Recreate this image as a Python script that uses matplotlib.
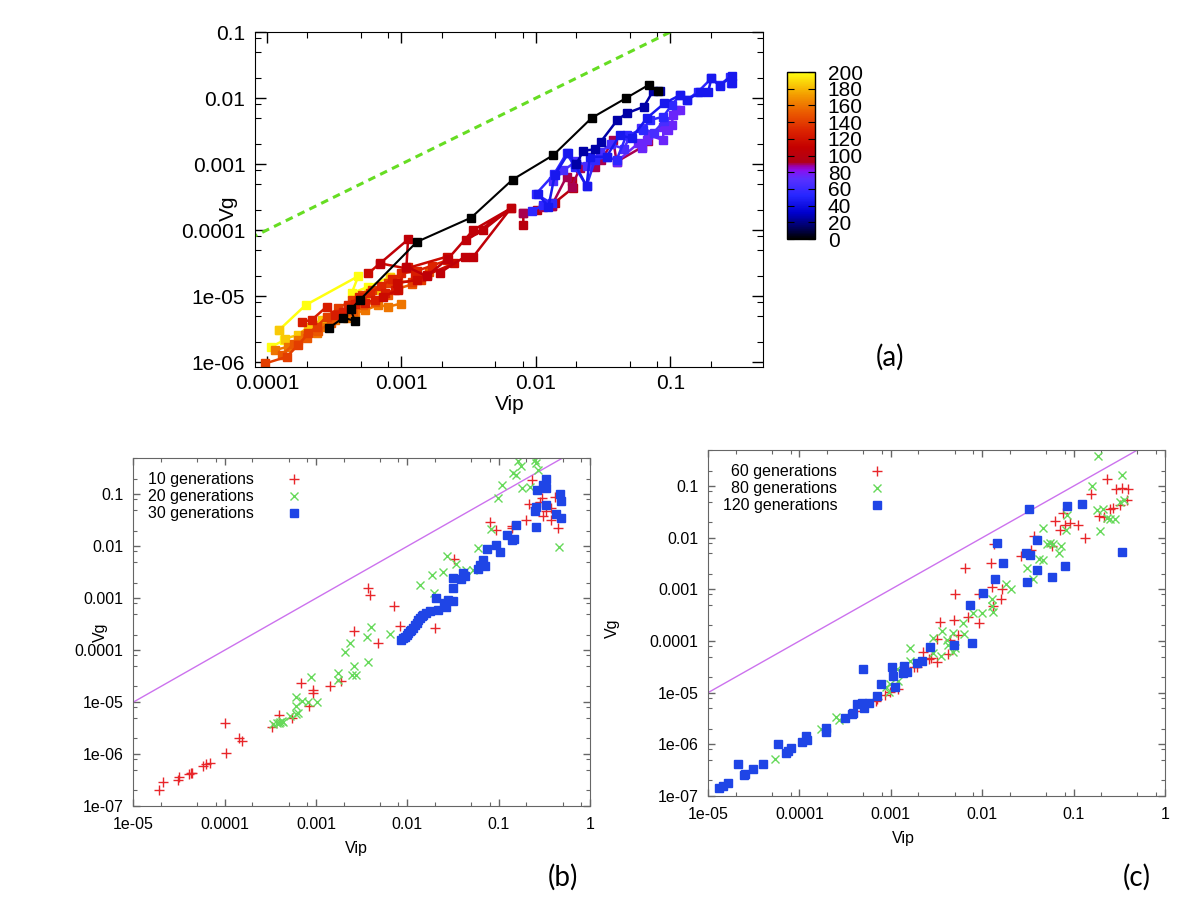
import numpy as np
import matplotlib
matplotlib.use('Agg')
import matplotlib.pyplot as plt
from matplotlib import colors, ticker
import matplotlib.cm as cm

plt.rcParams['font.family'] = ['Liberation Sans', 'DejaVu Sans']

# ---------------- panel (a): trajectories, coloured by generation ----------------
a_gen0_vip = [2.9e-4, 3.7e-4, 4.5e-4, 4.2e-4, 4.9e-4, 1.3e-3, 3.3e-3, 6.7e-3, 0.0135, 0.026, 0.0465, 0.069, 0.081]
a_gen0_vg = [3.3e-6, 4.7e-6, 4.2e-6, 6.3e-6, 8.7e-6, 6.6e-5, 1.54e-4, 5.8e-4, 1.37e-3, 5.0e-3, 9.9e-3, 0.0158, 0.0129]

a_gen25_vip = [0.020, 0.0225, 0.0275, 0.0304, 0.0403, 0.0472, 0.0635, 0.0745, 0.0836]
a_gen25_vg = [1.0e-3, 1.59e-3, 1.67e-3, 2.18e-3, 4.64e-3, 5.86e-3, 7.4e-3, 0.0129, 0.0129]

a_gen45_vip = [0.0104, 0.0124, 0.0138, 0.0174, 0.0195, 0.0238, 0.0252, 0.0335, 0.0421, 0.0514,
               0.0665, 0.090, 0.118, 0.132, 0.166, 0.191, 0.202, 0.233, 0.285, 0.285]
a_gen45_vg = [3.47e-4, 2.26e-4, 6.8e-4, 1.45e-3, 1.0e-3, 4.64e-4, 1.29e-3, 1.29e-3, 2.75e-3, 2.45e-3,
              4.92e-3, 8.3e-3, 0.0111, 9.3e-3, 0.0122, 0.0125, 0.0199, 0.0152, 0.0218, 0.0167]

a_gen55_vip = [9.4e-3, 0.01135, 0.0131, 0.0100, 0.0136, 0.0169, 0.0195, 0.0238, 0.0275, 0.0335, 0.0398, 0.0472,
               0.0628, 0.0705, 0.0885, 0.102, 0.118, 0.132, 0.161, 0.202, 0.233, 0.277, 0.284]
a_gen55_vg = [1.96e-4, 2.39e-4, 2.54e-4, 3.5e-4, 6.97e-4, 1.45e-3, 9.1e-4, 4.64e-4, 1.15e-3, 1.29e-3, 1.15e-3, 2.75e-3,
              3.27e-3, 4.64e-3, 5.2e-3, 7.8e-3, 0.0111, 9.3e-3, 0.0125, 0.0199, 0.0157, 0.021, 0.017]

a_gen65_vip = [0.0135, 0.016, 0.020, 0.024, 0.030, 0.036, 0.045, 0.050, 0.060, 0.075, 0.090]
a_gen65_vg = [5.5e-4, 8.0e-4, 1.1e-3, 9.5e-4, 1.5e-3, 2.0e-3, 1.7e-3, 2.6e-3, 3.5e-3, 3.0e-3, 4.5e-3]

a_gen75_vip = [0.0398, 0.0577, 0.0611, 0.0665, 0.0683, 0.0885, 0.0885, 0.0964, 0.102, 0.105, 0.111, 0.118]
a_gen75_vg = [1.08e-3, 2.06e-3, 1.73e-3, 2.31e-3, 2.75e-3, 2.31e-3, 3.68e-3, 3.27e-3, 3.9e-3, 5.5e-3, 6.6e-3, 6.6e-3]

a_gen90_vip = [8.06e-3, 0.01135, 0.0131, 0.0169, 0.0184, 0.0212, 0.0275, 0.0307, 0.0376, 0.0398, 0.0611, 0.0683]
a_gen90_vg = [1.79e-4, 2.26e-4, 2.34e-4, 6.43e-4, 4.43e-4, 8.6e-4, 9.1e-4, 1.15e-3, 2.31e-3, 1.08e-3, 1.79e-3, 2.26e-3]

a_gen100_vip = [8.06e-3, 8.06e-3, 0.0102, 0.0131, 0.0138, 0.019, 0.0184]
a_gen100_vg = [1.19e-4, 1.79e-4, 2.0e-4, 2.34e-4, 2.6e-4, 4.4e-4, 5.5e-4]

a_gen105_vip = [6.9e-4, 1.12e-3, 1.09e-3, 1.54e-3, 2.23e-3, 3.42e-3, 6.5e-3, 3.02e-3, 4.06e-3, 6.5e-3, 3.42e-3, 2.97e-3, 1.93e-3]
a_gen105_vg = [3.1e-5, 7.2e-5, 2.8e-5, 2.0e-5, 3.7e-5, 1.0e-4, 2.13e-4, 7.05e-5, 1.0e-4, 2.13e-4, 3.94e-5, 3.94e-5, 2.26e-5]

a_gen115_vip = [5.67e-4, 6.92e-4, 1.09e-3, 2.17e-3, 2.46e-3, 1.54e-3, 1.3e-3, 9.2e-4, 9.5e-4, 7.3e-4]
a_gen115_vg = [2.2e-5, 3.13e-5, 2.62e-5, 3.94e-5, 3.13e-5, 2.08e-5, 1.75e-5, 1.56e-5, 1.23e-5, 9.8e-6]

a_gen125_vip = [1.81e-4, 2.15e-4, 2.78e-4, 3.2e-4, 3.7e-4, 4.51e-4, 5.35e-4, 6.35e-4, 7.5e-4, 8.95e-4, 1.12e-3, 1.26e-3, 1.41e-3]
a_gen125_vg = [4.08e-6, 4.33e-6, 6.9e-6, 5.15e-6, 5.8e-6, 7.7e-6, 7.9e-6, 8.7e-6, 1.1e-5, 1.23e-5, 2.78e-5, 2.08e-5, 1.96e-5]

a_gen130_vip = [3.4e-4, 4.0e-4, 4.8e-4, 5.8e-4, 7.0e-4, 8.5e-4, 1.0e-3, 1.3e-3, 1.7e-3, 2.2e-3]
a_gen130_vg = [5.4e-6, 7.2e-6, 9.5e-6, 1.1e-5, 1.4e-5, 1.8e-5, 2.2e-5, 2.4e-5, 2.9e-5, 3.5e-5]

a_gen140_vip = [9.7e-5, 1.4e-4, 1.71e-4, 2.03e-4, 2.34e-4, 2.78e-4, 3.39e-4, 4.26e-4, 5.06e-4, 6.0e-4, 7.98e-4, 9.47e-4, 1.19e-3, 1.41e-3]
a_gen140_vg = [9.5e-7, 1.2e-6, 1.81e-6, 2.72e-6, 3.43e-6, 4.86e-6, 6.5e-6, 8.7e-6, 1.04e-5, 1.23e-5, 1.56e-5, 1.65e-5, 1.65e-5, 1.75e-5]

a_gen150_vip = [1.3e-4, 1.6e-4, 2.0e-4, 2.4e-4, 3.0e-4, 3.6e-4, 4.4e-4, 5.2e-4, 6.4e-4, 8.0e-4, 9.5e-4, 1.2e-3, 1.6e-3]
a_gen150_vg = [1.3e-6, 1.9e-6, 2.3e-6, 3.0e-6, 3.9e-6, 5.0e-6, 6.0e-6, 7.4e-6, 8.0e-6, 1.05e-5, 1.3e-5, 1.5e-5, 2.3e-5]

a_gen160_vip = [1.15e-4, 1.44e-4, 1.71e-4, 1.92e-4, 2.34e-4, 2.7e-4, 3.2e-4, 3.91e-4, 4.51e-4, 5.35e-4, 6.72e-4, 7.98e-4, 1.0e-3]
a_gen160_vg = [1.52e-6, 1.71e-6, 2.15e-6, 2.57e-6, 2.72e-6, 3.43e-6, 4.33e-6, 4.6e-6, 5.46e-6, 6.1e-6, 7.3e-6, 6.9e-6, 7.7e-6]

a_gen185_vip = [1.23e-4, 1.36e-4, 1.71e-4, 2.03e-4, 2.55e-4, 3.03e-4, 3.59e-4, 4.51e-4, 5.35e-4, 7.1e-4, 8.2e-4]
a_gen185_vg = [3.05e-6, 2.27e-6, 2.57e-6, 3.43e-6, 4.33e-6, 4.86e-6, 5.46e-6, 6.5e-6, 8.7e-6, 1.23e-5, 1.96e-5]

a_gen200_vip = [1.08e-4, 1.35e-4, 1.23e-4, 1.94e-4, 4.78e-4, 4.26e-4, 5.67e-4, 8.2e-4]
a_gen200_vg = [1.71e-6, 2.15e-6, 3.05e-6, 7.3e-6, 2.0e-5, 1.1e-5, 1.38e-5, 1.96e-5]

a_diag = [1e-5, 1.0]
a_xticks = [1e-4, 1e-3, 1e-2, 1e-1]
a_xlabels = ['0.0001', '0.001', '0.01', '0.1']
a_yticks = [1e-6, 1e-5, 1e-4, 1e-3, 1e-2, 1e-1]
a_ylabels = ['1e-06', '1e-05', '0.0001', '0.001', '0.01', '0.1']
cbar_ticks = list(range(0, 201, 20))

# ---------------- panel (b) ----------------
b_gen10_vip = [1.9e-5, 2.1e-5, 3.1e-5, 3.2e-5, 4.1e-5, 4.3e-5, 4.4e-5, 5.8e-5, 6.2e-5, 6.9e-5, 1.0e-4, 1.04e-4,
               1.45e-4, 1.53e-4, 3.3e-4, 3.95e-4, 5.5e-4, 6.8e-4, 9.2e-4, 9.3e-4, 8.4e-4, 1.44e-3, 1.9e-3, 2.6e-3,
               3.7e-3, 3.9e-3, 4.8e-3, 7.1e-3, 8.3e-3, 0.0203, 0.0325, 0.081, 0.094, 0.14, 0.141, 0.198, 0.215,
               0.23, 0.248, 0.281, 0.301, 0.308, 0.333, 0.371, 0.375, 0.41, 0.447]
b_gen10_vg = [2.0e-7, 2.9e-7, 3.2e-7, 3.7e-7, 4.1e-7, 4.3e-7, 4.4e-7, 6.0e-7, 6.4e-7, 6.8e-7, 4.0e-6, 1.03e-6,
              2.0e-6, 1.8e-6, 3.3e-6, 5.7e-6, 5.0e-6, 2.3e-5, 1.7e-5, 1.5e-5, 8.5e-6, 2.05e-5, 2.6e-5, 2.35e-4,
              1.58e-3, 1.13e-3, 1.36e-4, 7.1e-4, 2.9e-4, 2.7e-4, 5.7e-3, 0.029, 0.021, 0.022, 0.025, 0.032, 0.066,
              0.185, 0.058, 0.070, 0.085, 0.039, 0.047, 0.032, 0.054, 0.087, 0.022]

b_gen20_vip = [3.4e-4, 3.7e-4, 3.9e-4, 4.0e-4, 4.2e-4, 4.4e-4, 5.2e-4, 6.1e-4, 6.4e-4, 6.0e-4, 7.0e-4, 8.2e-4,
               1.03e-3, 8.9e-4, 6.0e-4, 1.72e-3, 1.75e-3, 2.1e-3, 2.35e-3, 2.6e-3, 2.45e-3, 2.73e-3, 3.6e-3,
               3.7e-3, 4.0e-3, 6.5e-3, 0.0137, 0.0188, 0.0194, 0.0247, 0.0272, 0.0345, 0.0436, 0.0525, 0.0596,
               0.082, 0.098, 0.110, 0.144, 0.155, 0.163, 0.177, 0.182, 0.219, 0.248, 0.258, 0.27, 0.458]
b_gen20_vg = [3.8e-6, 3.9e-6, 4.0e-6, 4.2e-6, 4.4e-6, 4.2e-6, 5.3e-6, 5.9e-6, 6.3e-6, 1.24e-5, 1.07e-5, 9.9e-6,
              1.02e-5, 3.1e-5, 8.5e-6, 3.6e-5, 2.7e-5, 9.1e-5, 1.40e-4, 5.0e-5, 3.3e-5, 3.3e-5, 1.83e-4,
              5.9e-5, 2.85e-4, 2.06e-4, 1.81e-3, 2.82e-3, 1.25e-3, 3.2e-3, 6.4e-3, 4.5e-3, 3.5e-3, 3.5e-3, 9.2e-3,
              0.0217, 0.085, 0.153, 0.257, 0.232, 0.43, 0.345, 0.132, 0.136, 0.45, 0.40, 0.298, 9.9e-3]

b_gen30_vip = [8.6e-3, 8.9e-3, 9.4e-3, 9.8e-3, 0.0102, 0.0107, 0.0111, 0.0116, 0.0121, 0.0126, 0.0131, 0.0137,
               0.0143, 0.0149, 0.0162, 0.0176, 0.0205, 0.0217, 0.0251, 0.0268, 0.028, 0.0317, 0.0317, 0.0317,
               0.0391, 0.041, 0.0433, 0.0596, 0.0622, 0.0675, 0.0705, 0.0747, 0.0944, 0.1045, 0.122, 0.141,
               0.148, 0.156, 0.254, 0.248, 0.254, 0.261, 0.306, 0.333, 0.333, 0.333, 0.428, 0.466, 0.485, 0.485]
b_gen30_vg = [1.6e-4, 1.7e-4, 1.8e-4, 2.0e-4, 2.1e-4, 2.3e-4, 2.5e-4, 2.65e-4, 3.1e-4, 3.3e-4, 3.8e-4, 4.1e-4,
              4.6e-4, 4.8e-4, 5.3e-4, 5.8e-4, 1.0e-3, 6.0e-4, 8.0e-4, 6.9e-4, 9.3e-4, 9.0e-4, 1.56e-3, 2.44e-3,
              2.3e-3, 3.0e-3, 2.7e-3, 3.6e-3, 4.4e-3, 5.5e-3, 4.2e-3, 8.8e-3, 0.0107, 7.7e-3, 0.0162, 0.0133,
              0.0137, 0.0252, 0.024, 0.047, 0.057, 0.123, 0.153, 0.197, 0.132, 0.063, 0.042, 0.103, 0.073, 0.035]

# ---------------- panel (c) ----------------
c_gen60_vip = [4.16e-4, 6.83e-4, 7.0e-4, 8.65e-4, 9.8e-4, 1.21e-3, 1.79e-3, 1.92e-3, 2.27e-3, 2.64e-3, 2.73e-3,
               3.18e-3, 3.23e-3, 3.45e-3, 4.19e-3, 4.45e-3, 4.96e-3, 5.04e-3, 5.48e-3, 6.5e-3, 7.05e-3, 9.2e-3,
               9.2e-3, 0.0124, 0.0127, 0.013, 0.0159, 0.0163, 0.0135, 0.0264, 0.0339, 0.0372, 0.0575, 0.063,
               0.071, 0.077, 0.081, 0.0914, 0.113, 0.133, 0.155, 0.191, 0.23, 0.25, 0.291, 0.335, 0.393, 0.385,
               0.326, 0.213, 0.27]
c_gen60_vg = [4.4e-6, 7.0e-6, 7.5e-6, 9.0e-6, 1.01e-5, 1.17e-5, 3.18e-5, 3.18e-5, 6.2e-5, 4.47e-5, 4.6e-5,
              3.85e-5, 1.09e-4, 2.35e-4, 5.5e-5, 1.07e-4, 2.61e-4, 8.3e-4, 1.30e-4, 2.57e-3, 2.86e-4, 2.25e-4,
              8.3e-4, 3.31e-3, 1.12e-3, 4.8e-4, 6.4e-4, 1.04e-3, 7.5e-3, 4.45e-3, 5.7e-3, 0.011, 6.95e-3, 0.0208,
              0.014, 0.0302, 0.018, 0.0194, 0.0175, 9.9e-3, 0.0715, 0.026, 0.139, 0.0366, 0.0867, 0.0934, 0.0893,
              0.0547, 0.0425, 0.0253, 0.0383]

c_gen80_vip = [5.4e-5, 1.72e-4, 2.51e-4, 2.71e-4, 8.9e-4, 9.8e-4, 1.21e-3, 9.6e-4, 1.16e-3, 1.62e-3, 1.62e-3,
               2.92e-3, 2.92e-3, 3.51e-3, 3.66e-3, 4.08e-3, 4.26e-3, 4.83e-3, 5.04e-3, 4.83e-3, 6.1e-3, 6.3e-3,
               7.9e-3, 9.9e-3, 0.0127, 0.0127, 0.013, 0.0182, 0.0207, 0.0362, 0.0312, 0.0422, 0.0467, 0.0467,
               0.0507, 0.0552, 0.059, 0.0728, 0.0698, 0.0826, 0.084, 0.158, 0.179, 0.211, 0.195, 0.23, 0.183,
               0.341, 0.357, 0.319, 0.283, 0.252]
c_gen80_vg = [5.2e-7, 1.98e-6, 3.42e-6, 2.95e-6, 1.26e-5, 1.47e-5, 1.7e-5, 1.04e-5, 2.82e-5, 7.2e-5, 4.1e-5,
              1.12e-4, 5.75e-5, 5.2e-5, 1.55e-4, 1.04e-4, 8.3e-5, 1.44e-4, 7.2e-5, 6.2e-5, 2.19e-4, 1.36e-4,
              3.5e-4, 3.5e-4, 6.4e-4, 4.7e-4, 3.67e-4, 1.3e-3, 1.0e-3, 1.62e-3, 2.6e-3, 3.95e-3, 3.67e-3, 0.0155,
              7.4e-3, 7.9e-3, 7.5e-3, 6.85e-3, 5.1e-3, 0.0144, 0.0272, 0.1007, 0.034, 0.0356, 0.0136, 0.0245, 0.383,
              0.162, 0.053, 0.049, 0.0235, 0.0235]

c_gen120_vip = [1.33e-5, 1.47e-5, 1.67e-5, 2.11e-5, 2.48e-5, 2.54e-5, 3.13e-5, 3.96e-5, 5.88e-5, 7.13e-5, 7.44e-5,
                8.09e-5, 1.06e-4, 1.18e-4, 1.2e-4, 1.95e-4, 1.95e-4, 3.15e-4, 3.73e-4, 3.83e-4, 4.23e-4, 4.8e-4,
                5.09e-4, 5.0e-4, 5.77e-4, 7.0e-4, 7.8e-4, 1.02e-3, 1.07e-3, 1.11e-3, 1.37e-3, 1.39e-3, 1.52e-3,
                1.95e-3, 2.21e-3, 2.69e-3, 4.86e-3, 7.4e-3, 7.8e-3, 0.0101, 0.0139, 0.0144, 0.017, 0.0301, 0.0328,
                0.0333, 0.0401, 0.0394, 0.0312, 0.0575, 0.080, 0.084, 0.124, 0.335]
c_gen120_vg = [1.45e-7, 1.56e-7, 1.76e-7, 4.16e-7, 2.55e-7, 2.62e-7, 3.28e-7, 4.16e-7, 1.01e-6, 6.89e-7, 7.42e-7,
               8.36e-7, 1.09e-6, 1.45e-6, 1.21e-6, 2.04e-6, 1.75e-6, 3.27e-6, 3.85e-6, 4.09e-6, 6.0e-6, 6.2e-6,
               5.1e-6, 2.82e-5, 6.2e-6, 8.7e-6, 1.47e-5, 3.18e-5, 2.13e-5, 1.3e-5, 2.43e-5, 3.27e-5, 2.54e-5,
               3.68e-5, 4.15e-5, 7.5e-5, 8.2e-5, 5.0e-4, 9.0e-5, 8.4e-4, 1.6e-3, 7.9e-3, 3.26e-3, 5.1e-3, 0.0356,
               4.66e-3, 9.1e-3, 2.39e-3, 1.36e-3, 1.77e-3, 2.85e-3, 0.0406, 0.045, 5.3e-3]

bc_diag = [1e-5, 1.0]
bc_xticks = [1e-5, 1e-4, 1e-3, 1e-2, 1e-1, 1.0]
bc_xlabels = ['1e-05', '0.0001', '0.001', '0.01', '0.1', '1']
bc_yticks = [1e-7, 1e-6, 1e-5, 1e-4, 1e-3, 1e-2, 1e-1]
bc_ylabels = ['1e-07', '1e-06', '1e-05', '0.0001', '0.001', '0.01', '0.1']

# gnuplot-like palette: black - blue - violet | dark red - orange - yellow
cmap = colors.LinearSegmentedColormap.from_list('gen', [
    (0.0, '#000000'), (0.08, '#000070'), (0.16, '#0000d0'), (0.26, '#2626ff'),
    (0.36, '#5a30ff'), (0.41, '#8a10f0'), (0.435, '#9a00b0'), (0.46, '#b00018'),
    (0.55, '#c40000'), (0.65, '#dc2400'), (0.75, '#ea5600'), (0.87, '#f4a000'), (1.0, '#ffff10')])
norm = colors.Normalize(0, 200)


def style_log(ax, xt, xl, yt, yl, fs, major, minor, frame, xpad=8):
    ax.set_xscale('log')
    ax.set_yscale('log')
    ax.xaxis.set_major_locator(ticker.FixedLocator(xt))
    ax.xaxis.set_major_formatter(ticker.FixedFormatter(xl))
    ax.yaxis.set_major_locator(ticker.FixedLocator(yt))
    ax.yaxis.set_major_formatter(ticker.FixedFormatter(yl))
    for axis in (ax.xaxis, ax.yaxis):
        axis.set_minor_locator(ticker.LogLocator(base=10, subs=(2, 5, 8), numticks=20))
        axis.set_minor_formatter(ticker.NullFormatter())
    ax.tick_params(which='both', direction='in', top=True, right=True, color=frame, labelsize=fs)
    ax.tick_params(which='major', length=major, width=1)
    ax.tick_params(which='minor', length=minor, width=0.8)
    ax.tick_params(axis='x', pad=xpad)
    ax.tick_params(axis='y', pad=7)
    for s in ax.spines.values():
        s.set_color(frame)


fig = plt.figure(figsize=(12, 9), dpi=100)

# ---- (a)
ax = fig.add_axes([0.2125, 0.5922, 0.4233, 0.3722])
traj = [(a_gen200_vip, a_gen200_vg, 200), (a_gen185_vip, a_gen185_vg, 185), (a_gen160_vip, a_gen160_vg, 160),
        (a_gen150_vip, a_gen150_vg, 150), (a_gen140_vip, a_gen140_vg, 140), (a_gen130_vip, a_gen130_vg, 130),
        (a_gen125_vip, a_gen125_vg, 125), (a_gen115_vip, a_gen115_vg, 115),
        (a_gen105_vip, a_gen105_vg, 105), (a_gen100_vip, a_gen100_vg, 100), (a_gen90_vip, a_gen90_vg, 90),
        (a_gen75_vip, a_gen75_vg, 75), (a_gen65_vip, a_gen65_vg, 65), (a_gen55_vip, a_gen55_vg, 55),
        (a_gen45_vip, a_gen45_vg, 45), (a_gen25_vip, a_gen25_vg, 25), (a_gen0_vip, a_gen0_vg, 0)]
for vip, vg, g in traj:
    c = cmap(norm(g))
    ax.plot(vip, vg, '-s', color=c, lw=1.8 if g else 1.5, ms=6, mec=c)
ax.plot(a_diag, a_diag, '--', color='#66dd22', lw=2.2, dashes=(2.5, 1.8))
ax.set_xlim(8.15e-5, 0.488)
ax.set_ylim(8.4e-7, 0.1)
style_log(ax, a_xticks, a_xlabels, a_yticks, a_ylabels, 15, 8, 4, 'black', xpad=5)

cax = fig.add_axes([0.656, 0.7344, 0.0233, 0.1856])
cb = fig.colorbar(cm.ScalarMappable(norm=norm, cmap=cmap), cax=cax, ticks=cbar_ticks)
cax.tick_params(direction='in', length=5, left=True, right=True, labelsize=15, pad=9)
cb.outline.set_linewidth(1)

fig.text(510 / 1200, 1 - 404 / 900, 'Vip', ha='center', va='center', fontsize=15)
fig.text(228 / 1200, 1 - 208 / 900, 'Vg', ha='center', va='center', fontsize=15, rotation=90)
fig.text(890 / 1200, 1 - 357 / 900, '(a)', ha='center', va='center', fontsize=20, family=['Lato', 'DejaVu Sans'])

# ---- (b) and (c)
panels = [
    ([0.1111, 0.1044, 0.3806, 0.3867], (b_gen10_vip, b_gen10_vg), (b_gen20_vip, b_gen20_vg), (b_gen30_vip, b_gen30_vg),
     ['10 generations', '20 generations', '30 generations']),
    ([0.59, 0.1156, 0.3808, 0.3844], (c_gen60_vip, c_gen60_vg), (c_gen80_vip, c_gen80_vg), (c_gen120_vip, c_gen120_vg),
     ['  60 generations', '  80 generations', '120 generations']),
]
for rect, red, green, blue, labels in panels:
    ax = fig.add_axes(rect)
    ax.plot(bc_diag, bc_diag, '-', color='#cc72ee', lw=1.0)
    ax.plot(red[0], red[1], '+', color='#e8262a', ms=7, mew=1.0, label=labels[0])
    ax.plot(green[0], green[1], 'x', color='#66d95a', ms=5.5, mew=1.0, label=labels[1])
    ax.plot(blue[0], blue[1], 's', color='#1f45e6', ms=5.8, mec='#1f45e6', label=labels[2])
    ax.set_xlim(1e-5, 1)
    ax.set_ylim(1e-7, 0.5)
    style_log(ax, bc_xticks, bc_xlabels, bc_yticks, bc_ylabels, 11.5, 5, 3, '#666666')
    ax.legend(loc='upper left', bbox_to_anchor=(0.0, 1.0), frameon=False, markerfirst=False, numpoints=1,
              fontsize=11.5, labelspacing=0.12, handlelength=1.0, handletextpad=2.0, borderaxespad=0.5)

fig.text(356 / 1200, 1 - 848 / 900, 'Vip', ha='center', va='center', fontsize=11.5)
fig.text(100 / 1200, 1 - 632 / 900, 'Vg', ha='center', va='center', fontsize=11.5, rotation=90)
fig.text(903 / 1200, 1 - 838 / 900, 'Vip', ha='center', va='center', fontsize=11.5)
fig.text(612 / 1200, 1 - 628 / 900, 'Vg', ha='center', va='center', fontsize=11.5, rotation=90)
fig.text(563 / 1200, 1 - 877 / 900, '(b)', ha='center', va='center', fontsize=20, family=['Lato', 'DejaVu Sans'])
fig.text(1137 / 1200, 1 - 877 / 900, '(c)', ha='center', va='center', fontsize=20, family=['Lato', 'DejaVu Sans'])

fig.savefig('out.png', dpi=100)
